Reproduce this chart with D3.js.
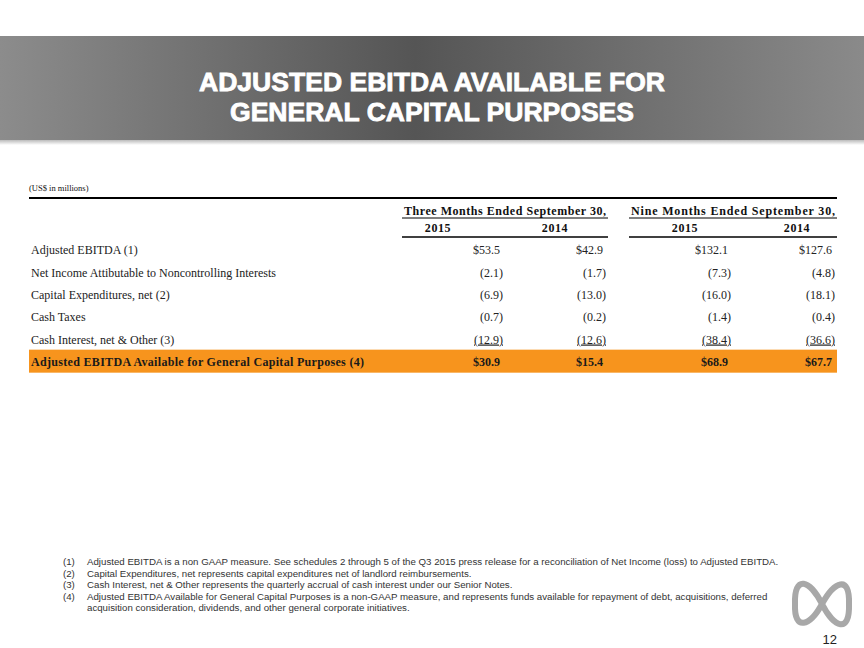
<!DOCTYPE html>
<html>
<head>
<meta charset="utf-8">
<script src="https://cdn.jsdelivr.net/npm/d3@7"></script>
<style>
  body { margin: 0; background: #fff; }
  svg { display: block; }
</style>
</head>
<body>
<div id="chart"></div>
<script>
// table values (US$ in millions), negatives are shown in parentheses
const rowLabels = [
  "Adjusted EBITDA (1)",
  "Net Income Attibutable to Noncontrolling Interests",
  "Capital Expenditures, net (2)",
  "Cash Taxes",
  "Cash Interest, net & Other (3)",
  "Adjusted EBITDA Available for General Capital Purposes (4)"
];
const periods = ["Three Months Ended September 30,", "Nine Months Ended September 30,"];
const years = ["2015", "2014", "2015", "2014"];
const columns = ["3m2015", "3m2014", "9m2015", "9m2014"];
const threeMonths2015 = [53.5, -2.1, -6.9, -0.7, -12.9, 30.9];
const threeMonths2014 = [42.9, -1.7, -13.0, -0.2, -12.6, 15.4];
const nineMonths2015 = [132.1, -7.3, -16.0, -1.4, -38.4, 68.9];
const nineMonths2014 = [127.6, -4.8, -18.1, -0.4, -36.6, 67.7];
const footnotes = [
  ["(1)", "Adjusted EBITDA is a non GAAP measure.  See schedules 2 through 5 of the Q3 2015  press release for a reconciliation of Net Income (loss) to Adjusted EBITDA."],
  ["(2)", "Capital Expenditures, net represents capital expenditures net of landlord reimbursements."],
  ["(3)", "Cash Interest, net & Other represents the quarterly accrual of cash interest under our Senior Notes."],
  ["(4)", "Adjusted EBITDA Available for General Capital Purposes is a non-GAAP measure, and represents funds available for repayment of debt, acquisitions, deferred"],
  ["", "acquisition consideration, dividends, and other general corporate initiatives."]
];

const W = 864, H = 648;
const serif = "'Liberation Serif', 'Times New Roman', serif";
const sans = "'Liberation Sans', Arial, sans-serif";

const svg = d3.select("#chart").append("svg")
  .attr("width", W)
  .attr("height", H);

// title banner
const defs = svg.append("defs");
const grad = defs.append("linearGradient").attr("id", "band");
grad.append("stop").attr("offset", "0%").attr("stop-color", "#8c8c8c");
grad.append("stop").attr("offset", "48%").attr("stop-color", "#555555");
grad.append("stop").attr("offset", "100%").attr("stop-color", "#8a8a8a");
const shadow = defs.append("linearGradient").attr("id", "shade")
  .attr("x1", 0).attr("x2", 0).attr("y1", 0).attr("y2", 1);
shadow.append("stop").attr("offset", "0%").attr("stop-color", "#bbb");
shadow.append("stop").attr("offset", "100%").attr("stop-color", "#fff");

svg.append("rect").attr("x", 0).attr("y", 140).attr("width", W).attr("height", 5)
  .attr("fill", "url(#shade)");
svg.append("rect").attr("x", 0).attr("y", 36).attr("width", W).attr("height", 104)
  .attr("fill", "url(#band)");

const titleLines = [
  ["ADJUSTED EBITDA AVAILABLE FOR", 91, 466],
  ["GENERAL CAPITAL PURPOSES", 120.5, 404]
];
titleLines.forEach(([txt, ty, len]) => {
  svg.append("text")
    .attr("x", 432).attr("y", ty)
    .attr("text-anchor", "middle")
    .attr("textLength", len).attr("lengthAdjust", "spacingAndGlyphs")
    .attr("fill", "#fff")
    .attr("stroke", "#fff")
    .attr("stroke-width", 0.8)
    .style("font-family", "'Liberation Sans Narrow', 'Arial Narrow', " + sans)
    .style("font-weight", "bold")
    .style("font-size", "26px")
    .text(txt);
});

// scales
const left = 29, right = 837;
const y = d3.scaleBand().domain(rowLabels).range([239, 373]);
const colRight = d3.scaleOrdinal().domain(columns).range([503, 606, 731, 835]);
const yearX = d3.scaleOrdinal().domain(d3.range(4)).range([438, 555, 685, 797]);
const periodSpan = d3.scaleOrdinal().domain(periods).range([[402, 608], [629, 837]]);

svg.append("text")
  .attr("x", left).attr("y", 191)
  .style("font-family", serif).style("font-size", "8.5px")
  .attr("fill", "#111")
  .text("(US$ in millions)");

svg.append("line")
  .attr("x1", left).attr("x2", right).attr("y1", 198).attr("y2", 198)
  .attr("stroke", "#000").attr("stroke-width", 2);

// header
periods.forEach(p => {
  const [a, b] = periodSpan(p);
  svg.append("text")
    .attr("x", (a + b) / 2).attr("y", 215)
    .attr("text-anchor", "middle")
    .attr("textLength", b - a - 4).attr("lengthAdjust", "spacing")
    .style("font-family", serif).style("font-weight", "bold").style("font-size", "12px")
    .attr("fill", "#111")
    .text(p);
  svg.append("line").attr("x1", a).attr("x2", b).attr("y1", 218).attr("y2", 218)
    .attr("stroke", "#000").attr("stroke-width", 1);
  svg.append("line").attr("x1", a).attr("x2", b).attr("y1", 237).attr("y2", 237)
    .attr("stroke", "#000").attr("stroke-width", 1.3);
});
years.forEach((yr, i) => {
  svg.append("text")
    .attr("x", yearX(i)).attr("y", 232)
    .attr("text-anchor", "middle")
    .style("font-family", serif).style("font-weight", "bold").style("font-size", "12px")
    .style("letter-spacing", "0.6px")
    .attr("fill", "#111")
    .text(yr);
});

// highlighted total row
const last = rowLabels[rowLabels.length - 1];
svg.append("rect")
  .attr("x", left).attr("y", y(last) - 1)
  .attr("width", right - left).attr("height", 23)
  .attr("fill", "#f7941d");

// rows
const series = [threeMonths2015, threeMonths2014, nineMonths2015, nineMonths2014];
const fmt = d3.format(".1f");

rowLabels.forEach((label, r) => {
  const isTotal = r === rowLabels.length - 1;
  const base = y(label) + y.bandwidth() / 2 + 4;
  const row = svg.append("g")
    .style("font-family", serif)
    .style("font-size", "12px")
    .style("font-weight", isTotal ? "bold" : "normal")
    .attr("fill", isTotal ? "#1a1a1a" : "#222");

  row.append("text").attr("x", left + 2).attr("y", base)
    .attr("textLength", isTotal ? 333 : null)
    .attr("lengthAdjust", "spacing")
    .text(label);

  columns.forEach((c, i) => {
    const v = series[i][r];
    const neg = v < 0;
    const txt = (r === 0 || isTotal) ? "$" + fmt(v) : neg ? "(" + fmt(-v) + ")" : fmt(v);
    const t = row.append("text")
      .attr("x", colRight(c) - (neg ? 0 : 3))
      .attr("y", base)
      .attr("text-anchor", "end")
      .text(txt);
    // last detail row is underlined
    if (r === rowLabels.length - 2) t.style("text-decoration", "underline");
  });
});

// footnotes
const fn = svg.append("g")
  .style("font-family", sans)
  .style("font-size", "9.7px")
  .attr("fill", "#333");
footnotes.forEach((f, i) => {
  const yy = 565 + i * 11.5;
  fn.append("text").attr("x", 63).attr("y", yy).text(f[0]);
  fn.append("text").attr("x", 87).attr("y", yy).text(f[1]);
});

// logo
const cx = 822, cy = 604;
const logo = d3.path();
logo.moveTo(cx, cy);
logo.bezierCurveTo(cx - 12, cy - 24, cx - 28, cy - 30, cx - 27, cy);
logo.bezierCurveTo(cx - 28, cy + 28, cx - 12, cy + 22, cx, cy);
logo.bezierCurveTo(cx + 12, cy - 22, cx + 28, cy - 30, cx + 27, cy);
logo.bezierCurveTo(cx + 28, cy + 30, cx + 12, cy + 24, cx, cy);
svg.append("path")
  .attr("d", logo.toString())
  .attr("fill", "none")
  .attr("stroke", "#a8a8a8")
  .attr("stroke-width", 6)
  .attr("stroke-linejoin", "round");

svg.append("text")
  .attr("x", 837).attr("y", 644)
  .attr("text-anchor", "end")
  .style("font-family", sans).style("font-size", "13px")
  .attr("fill", "#222")
  .text("12");
</script>
</body>
</html>
